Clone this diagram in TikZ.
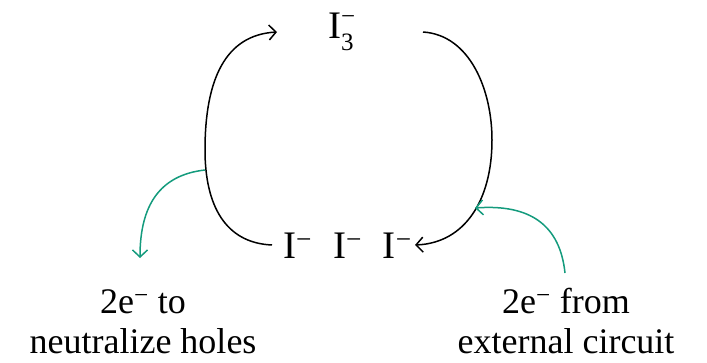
\documentclass[tikz,border=0pt]{standalone}
\usepackage{fontspec}
\setmainfont{Liberation Serif}
\usetikzlibrary{arrows.meta}
\definecolor{tealg}{RGB}{20,155,125}
\begin{document}
\begin{tikzpicture}[x=1pt,y=1pt,
  chem/.style={inner sep=0pt,font=\fontsize{39}{44}\selectfont},
  lbl/.style={inner sep=0pt,align=center,font=\fontsize{36}{40}\selectfont},
  cyc/.style={line width=1.5pt,black,-{Straight Barb[length=7pt,width=15pt,line width=1.5pt]}},
  elec/.style={line width=1.5pt,tealg,-{Straight Barb[length=7pt,width=15pt,line width=1.5pt]}}]
\useasboundingbox (0,0) rectangle (707,362);
\node[chem,anchor=base west] (tri) at (328,323) {I\rlap{\raisebox{-12pt}{\fontsize{25}{25}\selectfont 3}}\raisebox{14pt}{\fontsize{25}{25}\selectfont −}};
\node[chem,anchor=base west] (row) at (283,104) {I\textsuperscript{−}\hspace{21pt}I\textsuperscript{−}\hspace{21pt}I\textsuperscript{−}};
\node[lbl,anchor=base] (lto) at (143,9) {2e\textsuperscript{−} to\\neutralize holes};
\node[lbl,anchor=base] (lfrom) at (566,9) {2e\textsuperscript{−} from\\external circuit};
\coordinate (a1) at (272,117);
\coordinate (a2) at (277,330);
\coordinate (b1) at (423,330);
\coordinate (b2) at (415,117);
\coordinate (g1) at (205,192);
\coordinate (g2) at (140,104);
\coordinate (h1) at (565,89);
\coordinate (h2) at (475,154);
\draw[cyc] (a1) .. controls (225,119) and (205,157) .. (205,212) .. controls (205,282) and (225,327) .. (a2);
\draw[cyc] (b1) .. controls (470,327) and (492,272) .. (492,222) .. controls (492,162) and (465,119) .. (b2);
\draw[elec] (g1) .. controls (160,187) and (140,157) .. (g2);
\draw[elec] (h1) .. controls (560,137) and (530,158) .. (h2);
\end{tikzpicture}
\end{document}
